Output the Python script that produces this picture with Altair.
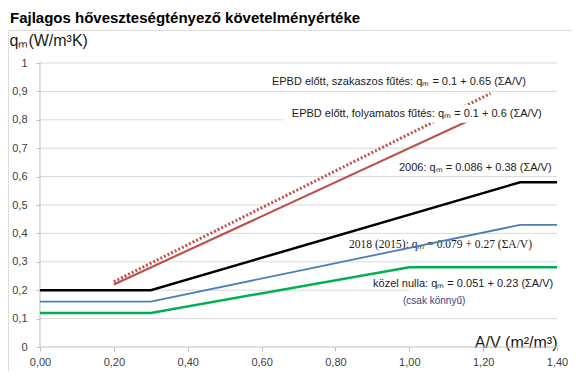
import altair as alt
import pandas as pd

# ---- data ----
nz_x = [0.00, 0.30, 1.00, 1.40]
nz_y = [0.12, 0.12, 0.281, 0.281]
r2018_x = [0.00, 0.30, 1.30, 1.40]
r2018_y = [0.16, 0.16, 0.43, 0.43]
r2006_x = [0.00, 0.30, 1.30, 1.40]
r2006_y = [0.20, 0.20, 0.58, 0.58]
cont_x = [0.20, 1.20]
cont_y = [0.22, 0.82]
inter_x = [0.20, 1.22]
inter_y = [0.23, 0.893]

x_ticks = [0.0, 0.2, 0.4, 0.6, 0.8, 1.0, 1.2, 1.4]
y_ticks = [0.0, 0.1, 0.2, 0.3, 0.4, 0.5, 0.6, 0.7, 0.8, 0.9, 1.0]

# annotations (sans-serif)
ann_text = [
    "EPBD előtt, szakaszos fűtés: qₘ = 0.1 + 0.65 (ΣA/V)",
    "EPBD előtt, folyamatos fűtés: qₘ = 0.1 + 0.6 (ΣA/V)",
    "2006: qₘ = 0.086 + 0.38 (ΣA/V)",
    "közel nulla: qₘ = 0.051 + 0.23 (ΣA/V)",
]
ann_x = [0.628, 0.682, 0.972, 0.902]
ann_y = [0.933, 0.82, 0.63, 0.222]
# serif annotation
ser_text = ["2018 (2015): qₘ = 0.079 + 0.27 (ΣA/V)"]
ser_x = [0.837]
ser_y = [0.359]
# small note
note_text = ["(csak könnyű)"]
note_x = [0.983]
note_y = [0.163]

# white label boxes
box_x = [0.658, 1.00]
box_x2 = [1.40, 1.40]
box_y = [0.79, 0.17]
box_y2 = [0.852, 0.21]

# the view spans the whole framed chart box; axes sit inside it
X_MIN, X_MAX = -0.08665, 1.44056
Y_MIN, Y_MAX = -0.0845, 1.1162
PW, PH = 564, 341


def line_df(xs, ys):
    return pd.DataFrame({"x": xs, "y": ys, "o": list(range(len(xs)))})


FONT = "Liberation Sans"

x_scale = alt.Scale(domain=[X_MIN, X_MAX], nice=False, zero=False)
y_scale = alt.Scale(domain=[Y_MIN, Y_MAX], nice=False, zero=False)

x_enc = alt.X(
    "x:Q",
    scale=x_scale,
    axis=alt.Axis(
        values=x_ticks,
        labelExpr="replace(format(datum.value, '.2f'), '.', ',')",
        grid=False,
        domain=False,
        offset=-24,
        tickColor="#BFBFBF",
        tickSize=4,
        labelFont=FONT,
        labelFontSize=11,
        labelColor="#404040",
        labelPadding=5,
        title="A/V (m²/m³)",
        titleFont=FONT,
        titleFontSize=16,
        titleFontWeight="normal",
        titleColor="#1a1a1a",
        titleX=549,
        titleY=0,
        titleAlign="right",
        titleBaseline="alphabetic",
        titleAngle=0,
    ),
)
y_enc = alt.Y(
    "y:Q",
    scale=y_scale,
    axis=alt.Axis(
        values=y_ticks,
        labelExpr="replace(format(datum.value, '.1~f'), '.', ',')",
        grid=False,
        domain=False,
        offset=-32,
        tickColor="#BFBFBF",
        tickSize=4,
        labelFont=FONT,
        labelFontSize=11,
        labelColor="#404040",
        labelPadding=9,
        title="qₘ(W/m³K)",
        titleFont=FONT,
        titleFontSize=16,
        titleFontWeight="normal",
        titleColor="#1a1a1a",
        titleAngle=0,
        titleX=-31,
        titleY=15,
        titleAlign="left",
        titleBaseline="alphabetic",
    ),
)


def line_layer(xs, ys, color, width, dash=None):
    kw = dict(color=color, strokeWidth=width, strokeCap="butt")
    if dash:
        kw["strokeDash"] = dash
    return alt.Chart(line_df(xs, ys)).mark_line(**kw).encode(
        x=x_enc, y=y_enc, order="o:Q"
    )


def hrules(xs, x2s, ys, color, w):
    return alt.Chart(pd.DataFrame({"x": xs, "x2": x2s, "y": ys})).mark_rule(
        color=color, strokeWidth=w
    ).encode(x=x_enc, x2="x2:Q", y=y_enc)


def vrules(xs, ys, y2s, color, w):
    return alt.Chart(pd.DataFrame({"x": xs, "y": ys, "y2": y2s})).mark_rule(
        color=color, strokeWidth=w
    ).encode(x=x_enc, y=y_enc, y2="y2:Q")


grid_y = y_ticks[1:]
gridlines = hrules([0.0] * len(grid_y), [1.4] * len(grid_y), grid_y, "#D9D9D9", 1)
x_domain = hrules([0.0], [1.4], [0.0], "#BFBFBF", 1)
y_domain = vrules([0.0], [0.0], [1.0], "#BFBFBF", 1)

boxes = alt.Chart(
    pd.DataFrame({"x": box_x, "x2": box_x2, "y": box_y, "y2": box_y2})
).mark_rect(fill="white").encode(x=x_enc, x2="x2:Q", y=y_enc, y2="y2:Q")

txt = alt.Chart(pd.DataFrame({"x": ann_x, "y": ann_y, "t": ann_text})).mark_text(
    align="left", baseline="middle", font=FONT, fontSize=11, color="#1a1a1a"
).encode(x=x_enc, y=y_enc, text="t:N")
txt_serif = alt.Chart(pd.DataFrame({"x": ser_x, "y": ser_y, "t": ser_text})).mark_text(
    align="left", baseline="middle", font="Liberation Serif", fontSize=11.5, color="#1a1a1a"
).encode(x=x_enc, y=y_enc, text="t:N")
txt_note = alt.Chart(pd.DataFrame({"x": note_x, "y": note_y, "t": note_text})).mark_text(
    align="left", baseline="middle", font=FONT, fontSize=10, color="#3C3C7A"
).encode(x=x_enc, y=y_enc, text="t:N")

chart = alt.layer(
    gridlines,
    x_domain,
    y_domain,
    line_layer(inter_x, inter_y, "#C0504D", 3, [2, 2]),
    line_layer(cont_x, cont_y, "#C0504D", 2.2),
    boxes,
    txt,
    txt_serif,
    txt_note,
    line_layer(r2006_x, r2006_y, "#000000", 2.5),
    line_layer(r2018_x, r2018_y, "#4A7EBB", 1.8),
    line_layer(nz_x, nz_y, "#00B050", 2.5),
).properties(
    width=PW,
    height=PH,
    title=alt.TitleParams(
        "Fajlagos hőveszteségtényező követelményértéke",
        anchor="start",
        frame="group",
        font=FONT,
        fontSize=15,
        fontWeight="bold",
        color="#000000",
        baseline="alphabetic",
        offset=2,
        dx=2,
        dy=10,
    ),
    autosize=alt.AutoSizeParams(type="none"),
    padding={"left": 0, "top": 22, "right": 0, "bottom": 0},
).configure_view(stroke="#BFBFBF", strokeWidth=1.2).configure(background="white")

chart.save("out.html", embed_options={"renderer": "svg", "actions": False})
